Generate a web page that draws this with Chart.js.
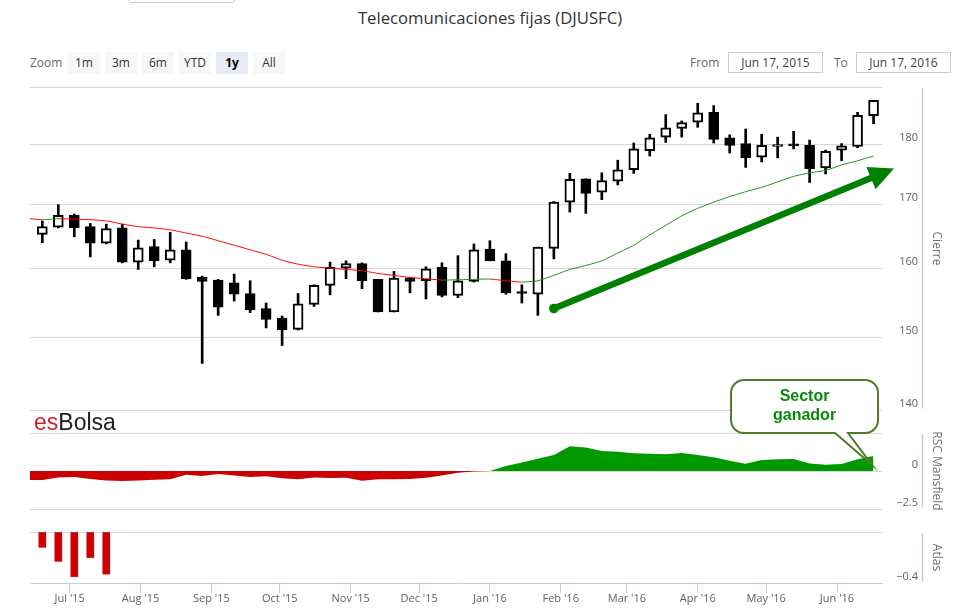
<!DOCTYPE html>
<html><head><meta charset="utf-8">
<script src="https://cdn.jsdelivr.net/npm/chart.js@4.4.0/dist/chart.umd.min.js"></script>
<style>
html,body{margin:0;padding:0;background:#fff;}
#wrap{position:relative;width:958px;height:612px;overflow:hidden;font-family:'Open Sans',sans-serif;}
canvas{position:absolute;left:0;top:0;}
.btn{position:absolute;top:52px;width:32px;height:22px;line-height:22px;text-align:center;font-size:12px;color:#333;background:#f7f7f7;}
.sel{background:#e6ebf5;font-weight:bold;color:#000;}
.lbl{position:absolute;font-size:12px;color:#666;line-height:22px;top:52px;}
.date{position:absolute;top:52px;width:93px;height:19px;border:1px solid #ccc;font-size:12px;line-height:19px;text-align:center;color:#444;}
</style></head>
<body><div id="wrap">
<div style="position:absolute;left:128px;top:-20px;width:105px;height:21px;border:1px solid #ccc;border-radius:3px;"></div>
<div style="position:absolute;left:0;width:980px;top:8px;text-align:center;font-size:16.7px;color:#333;line-height:20px;">Telecomunicaciones fijas (DJUSFC)</div>
<div class="lbl" style="left:30px;">Zoom</div>
<div class="btn" style="left:68px">1m</div>
<div class="btn" style="left:105px">3m</div>
<div class="btn" style="left:142px">6m</div>
<div class="btn" style="left:179px">YTD</div>
<div class="btn sel" style="left:216px">1y</div>
<div class="btn" style="left:253px">All</div>
<div class="lbl" style="left:690px">From</div>
<div class="date" style="left:728px">Jun 17, 2015</div>
<div class="lbl" style="left:834px">To</div>
<div class="date" style="left:856px">Jun 17, 2016</div>
<canvas id="cPrice" width="958" height="612"></canvas>
<canvas id="cRsc" width="958" height="612"></canvas>
<canvas id="cAtlas" width="958" height="612"></canvas>
<div style="position:absolute;left:34px;top:411px;font-size:23px;line-height:23px;font-family:'Liberation Sans',Arial,sans-serif;"><span style="color:#d0202e">es</span><span style="color:#222">Bolsa</span></div>
</div>
<script>
// ---------------- DATA ----------------
const weeks = ['2015-06-19','2015-06-26','2015-07-03','2015-07-10','2015-07-17','2015-07-24','2015-07-31',
  '2015-08-07','2015-08-14','2015-08-21','2015-08-28','2015-09-04','2015-09-11','2015-09-18','2015-09-25',
  '2015-10-02','2015-10-09','2015-10-16','2015-10-23','2015-10-30','2015-11-06','2015-11-13','2015-11-20',
  '2015-11-27','2015-12-04','2015-12-11','2015-12-18','2015-12-25','2016-01-01','2016-01-08','2016-01-15',
  '2016-01-22','2016-01-29','2016-02-05','2016-02-12','2016-02-19','2016-02-26','2016-03-04','2016-03-11',
  '2016-03-18','2016-03-25','2016-04-01','2016-04-08','2016-04-15','2016-04-22','2016-04-29','2016-05-06',
  '2016-05-13','2016-05-20','2016-05-27','2016-06-03','2016-06-10','2016-06-17'];
const open = [165.3,166.4,168.3,166.5,163.9,166.3,161.0,163.4,161.3,162.9,158.7,158.3,157.9,156.3,154.1,152.7,
  151.1,154.7,157.5,160.1,160.8,158.4,153.6,158.6,158.2,160.2,156.0,158.1,163.0,161.2,156.5,156.2,163.1,170.4,
  174.2,172.0,173.8,175.7,178.9,181.2,182.7,183.8,185.5,181.1,180.1,177.8,179.6,179.8,179.8,176.0,179.0,179.6,184.9];
const close = [166.5,168.3,166.3,163.9,166.2,161.0,163.2,161.2,162.9,158.5,158.1,154.3,156.2,153.9,152.5,151.0,
  154.8,157.5,160.2,160.8,158.2,153.6,158.6,158.1,160.0,156.0,158.2,162.9,161.2,156.4,156.3,163.3,170.4,174.1,
  171.8,173.9,175.7,179.2,181.1,182.8,183.7,185.4,180.8,179.8,177.7,179.8,179.8,179.7,175.9,178.8,179.7,185.0,187.6];
const high = [167.4,170.0,168.5,167.0,166.9,166.9,164.4,164.5,165.6,164.1,158.9,158.4,159.2,158.2,154.9,153.0,
  156.3,157.6,161.0,161.2,160.9,158.4,159.6,158.7,160.3,160.9,162.0,163.8,164.3,162.3,157.6,163.3,170.5,175.1,
  174.2,175.2,177.3,180.2,181.7,185.1,184.0,187.1,186.7,181.6,182.6,181.7,181.2,182.2,180.7,179.0,180.1,185.5,187.6];
const low = [164.0,166.3,164.9,161.8,163.8,160.9,159.9,160.3,160.9,158.4,146.3,153.1,155.2,153.5,151.3,148.8,
  151.0,154.4,156.1,158.5,157.0,153.6,153.6,156.4,155.5,155.8,155.7,158.0,161.2,156.2,154.9,153.1,161.5,168.8,
  168.6,170.8,173.2,175.1,178.0,180.3,181.2,182.9,180.2,178.5,176.1,177.0,177.7,179.2,173.6,175.0,177.2,179.4,183.5];
// moving average and RSC Mansfield (first value is the week before the visible range)
const lineDates = ['2015-06-12'].concat(weeks);
const ma = [167.8,167.6,167.75,167.7,167.6,167.4,166.9,166.5,166.3,166.0,165.5,165.0,164.3,163.6,162.9,162.2,
  161.3,160.7,160.3,160.1,159.9,159.7,159.3,159.0,158.7,158.5,158.3,158.35,158.4,158.45,158.2,158.0,158.2,159.0,
  159.9,160.5,161.2,162.4,163.6,165.2,166.7,168.2,169.4,170.4,171.3,172.1,172.8,173.7,174.6,175.2,175.6,176.5,177.2,178.0];
const rsc = [-0.60,-0.59,-0.43,-0.40,-0.52,-0.62,-0.66,-0.62,-0.58,-0.55,-0.25,-0.33,-0.20,-0.29,-0.40,-0.34,
  -0.47,-0.55,-0.43,-0.46,-0.44,-0.64,-0.55,-0.54,-0.53,-0.45,-0.30,-0.12,-0.03,0.0,0.33,0.56,0.80,1.06,1.63,
  1.55,1.32,1.26,1.16,1.13,1.10,1.18,1.05,0.90,0.68,0.48,0.72,0.77,0.79,0.50,0.41,0.46,0.77,0.99];
const atlas = [-0.12,-0.23,-0.35,-0.20,-0.33];   // first five weeks
const monthTicks = ['2015-07-01','2015-08-01','2015-09-01','2015-10-01','2015-11-01','2015-12-01',
  '2016-01-01','2016-02-01','2016-03-01','2016-04-01','2016-05-01','2016-06-01'];
const monthLabels = ["Jul '15","Aug '15","Sep '15","Oct '15","Nov '15","Dec '15",
  "Jan '16","Feb '16","Mar '16","Apr '16","May '16","Jun '16"];
const priceTicks = [140,150,160,170,180,190];
const rscTicks = [-2.5,0,2.5];
const atlasTicks = [-0.4,0];
const arrowFrom = ['2016-01-29',154.1];
const arrowTo = ['2016-06-26',175.9];
const calloutText = ['Sector','ganador'];
const calloutAt = ['2016-06-17',0.4];

// ---------------- STYLE ----------------
const DAY = 86400000;
const t = s => Date.parse(s);
const X_MIN = t('2015-06-19') - 5.4 * DAY, X_MAX = X_MIN + 373.1 * DAY;
const GRID = '#D8D8D8', AXIS = '#C0D0E0', LBL = '#606060', TTL = '#707070';
const MA_RED = '#ff0000', MA_GREEN = '#1a8f1a', AREA_RED = '#cc0000', AREA_GREEN = '#009900';
const FONT = "'Open Sans', sans-serif";
Chart.defaults.font.family = FONT;
const fmt = v => String(v).replace('-', '\u2212');
const up = s => [s, ''];   // two-line label: first line sits just above its grid line
const AXW = 36;            // label box width; labels right-aligned at its right edge

function xScale(show) {
  return {
    type: 'linear', min: X_MIN, max: X_MAX, offset: false, display: show,
    afterBuildTicks: s => { s.ticks = monthTicks.map(d => ({ value: t(d) })); },
    ticks: { autoSkip: false, maxRotation: 0, minRotation: 0, padding: -1, color: LBL, font: { size: 11 },
      callback: (v, i) => monthLabels[i] },
    grid: { drawOnChartArea: false, tickLength: 10, tickColor: AXIS, offset: false },
    border: { display: true, color: AXIS, width: 1 },
    afterFit: s => { s.height = show ? 29 : 0; }
  };
}
function yScale(title, extra) {
  const ticks = Object.assign({ crossAlign: 'far', padding: 0, color: LBL, font: { size: 11 }, autoSkip: false },
    extra.ticks || {});
  const grid = Object.assign({ color: GRID, drawTicks: false, lineWidth: 1 }, extra.grid || {});
  return Object.assign({
    position: 'right',
    border: { display: false },
    title: { display: true, text: title, color: TTL, font: { size: 12 }, padding: { top: -25.2, bottom: 0 } },
    afterFit: s => { s.width = AXW; }
  }, extra, { ticks, grid });
}
const axisLine = { id: 'axisLine', afterDraw(chart) {
  const a = chart.chartArea, ctx = chart.ctx;
  ctx.save(); ctx.strokeStyle = AXIS; ctx.lineWidth = 1.5;
  ctx.beginPath(); ctx.moveTo(a.right + 40.5, a.top + 1); ctx.lineTo(a.right + 40.5, a.bottom - 1.5); ctx.stroke();
  ctx.restore();
}};
const arrowPlugin = { id: 'arrow', afterDatasetsDraw(chart) {
  const { ctx, scales: { x, y } } = chart;
  const x0 = x.getPixelForValue(t(arrowFrom[0])), y0 = y.getPixelForValue(arrowFrom[1]);
  const x1 = x.getPixelForValue(t(arrowTo[0])), y1 = y.getPixelForValue(arrowTo[1]);
  const dx = x1 - x0, dy = y1 - y0, L = Math.hypot(dx, dy), ux = dx / L, uy = dy / L;
  const head = 25, half = 12;
  const bx = x1 - ux * head, by = y1 - uy * head;
  ctx.save();
  ctx.strokeStyle = '#008000'; ctx.fillStyle = '#008000'; ctx.lineWidth = 6.5; ctx.lineCap = 'butt';
  ctx.beginPath(); ctx.moveTo(x0, y0); ctx.lineTo(bx + ux * 4, by + uy * 4); ctx.stroke();
  ctx.beginPath(); ctx.arc(x0, y0, 4.8, 0, Math.PI * 2); ctx.fill();
  ctx.beginPath(); ctx.moveTo(x1, y1);
  ctx.lineTo(bx - uy * half, by + ux * half); ctx.lineTo(bx + uy * half, by - ux * half);
  ctx.closePath(); ctx.fill();
  ctx.restore();
}};
const calloutPlugin = { id: 'callout', afterDraw(chart) {
  const { ctx, chartArea: a, scales: { x, y } } = chart;
  const tx = x.getPixelForValue(t(calloutAt[0])) - 1.5, ty = y.getPixelForValue(calloutAt[1]);
  const L = tx - 141, R = tx + 6, T = a.top - 53, B = a.top, r = 13;
  const tl = tx - 37, tr = tx - 24;
  ctx.save();
  ctx.beginPath();
  ctx.moveTo(L + r, T); ctx.lineTo(R - r, T); ctx.arcTo(R, T, R, T + r, r);
  ctx.lineTo(R, B - r); ctx.arcTo(R, B, R - r, B, r);
  ctx.lineTo(tr, B); ctx.lineTo(tx, ty); ctx.lineTo(tl, B);
  ctx.lineTo(L + r, B); ctx.arcTo(L, B, L, B - r, r);
  ctx.lineTo(L, T + r); ctx.arcTo(L, T, L + r, T, r); ctx.closePath();
  ctx.fillStyle = '#fff'; ctx.fill();
  ctx.strokeStyle = '#4f7a28'; ctx.lineWidth = 2; ctx.stroke();
  ctx.fillStyle = '#078a07'; ctx.font = "bold 16px 'Liberation Sans', Arial, sans-serif";
  ctx.textAlign = 'center'; ctx.textBaseline = 'middle';
  ctx.fillText(calloutText[0], (L + R) / 2, T + 17);
  ctx.fillText(calloutText[1], (L + R) / 2, T + 36);
  ctx.restore();
}};
const common = (pad) => ({
  responsive: false, animation: false, events: [],
  layout: { padding: Object.assign({ left: 30, right: 40 }, pad), autoPadding: false },
  plugins: { legend: { display: false }, tooltip: { enabled: false } }
});

// ---------------- PRICE ----------------
new Chart(document.getElementById('cPrice'), {
  type: 'bar',
  data: { datasets: [
    { type: 'line', data: lineDates.map((d, i) => ({ x: t(d), y: ma[i] })), borderWidth: 1, pointRadius: 0,
      borderColor: MA_RED, tension: 0.2,
      segment: { borderColor: c => ma[c.p1DataIndex] > ma[c.p0DataIndex] ? MA_GREEN : MA_RED }, order: 0 },
    { data: weeks.map((d, i) => ({ x: t(d), y: [open[i], close[i]] })),
      backgroundColor: c => close[c.dataIndex] >= open[c.dataIndex] ? '#ffffff' : '#000000',
      borderColor: '#000', borderWidth: 2, borderSkipped: false, barThickness: 10, minBarLength: 2,
      grouped: false, order: 1 },
    { data: weeks.map((d, i) => ({ x: t(d), y: [low[i], high[i]] })),
      backgroundColor: '#000', borderWidth: 0, barThickness: 2, grouped: false, order: 2 }
  ]},
  options: Object.assign(common({ top: 87, bottom: 202 }), {
    scales: {
      x: xScale(false),
      y: yScale('Cierre', {
        type: 'logarithmic', min: 140, max: 190,
        afterBuildTicks: s => { s.ticks = priceTicks.map(v => ({ value: v })); },
        ticks: { callback: v => up(v === 190 ? '' : String(v)) }
      })
    }
  }),
  plugins: [axisLine, arrowPlugin]
});

// ---------------- RSC MANSFIELD ----------------
new Chart(document.getElementById('cRsc'), {
  type: 'line',
  data: { datasets: [
    { data: lineDates.map((d, i) => ({ x: t(d), y: rsc[i] })), borderColor: 'transparent', borderWidth: 0,
      pointRadius: 0, fill: { target: 'origin', above: AREA_GREEN, below: AREA_RED } }
  ]},
  options: Object.assign(common({ top: 433, bottom: 103 }), {
    scales: {
      x: xScale(false),
      y: yScale('RSC Mansfield', {
        type: 'linear', min: -2.5, max: 2.5,
        afterBuildTicks: s => { s.ticks = rscTicks.map(v => ({ value: v })); },
        ticks: { callback: v => up(v === 2.5 ? '' : fmt(v)) }
      })
    }
  }),
  plugins: [axisLine, calloutPlugin]
});

// ---------------- ATLAS ----------------
new Chart(document.getElementById('cAtlas'), {
  type: 'bar',
  data: { datasets: [
    { data: atlas.map((v, i) => ({ x: t(weeks[i]), y: v })), backgroundColor: AREA_RED, barThickness: 7,
      grouped: false, borderWidth: 0 }
  ]},
  options: Object.assign(common({ top: 532, bottom: 0 }), {
    scales: {
      x: xScale(true),
      y: yScale('Atlas', {
        type: 'linear', min: -0.4, max: 0,
        afterBuildTicks: s => { s.ticks = atlasTicks.map(v => ({ value: v })); },
        ticks: { callback: v => up(v === 0 ? '' : fmt(v)) },
        grid: { color: c => (c.tick && c.tick.value === 0) ? GRID : 'rgba(0,0,0,0)' }
      })
    }
  }),
  plugins: [axisLine]
});
</script>
</body></html>
